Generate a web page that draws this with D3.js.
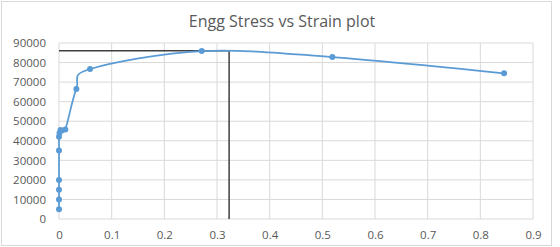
<!DOCTYPE html>
<html>
<head>
<meta charset="utf-8">
<script src="https://cdn.jsdelivr.net/npm/d3@7"></script>
<style>
  body { margin: 0; background: #fff; }
  text { font-family: "Open Sans", sans-serif; fill: #595959; }
</style>
</head>
<body>
<div id="chart-area"></div>
<script>
// strain / stress readings
const strain = [0, 0, 0, 0, 0, 0, 0.001, 0.003, 0.012, 0.033, 0.059, 0.271, 0.519, 0.845]
const stress = [5000, 10000, 15000, 20000, 35000, 42000, 44000, 45500, 45800, 66500, 76700, 85900, 82800, 74500]
const xTicks = [0, 0.1, 0.2, 0.3, 0.4, 0.5, 0.6, 0.7, 0.8, 0.9]
const yTicks = [0, 10000, 20000, 30000, 40000, 50000, 60000, 70000, 80000, 90000]
// guide lines marking the peak
const peakStrain = 0.323
const peakStress = 86000

const W = 560, H = 247
const MARGIN = { LEFT: 59, RIGHT: 27, TOP: 43, BOTTOM: 28 }
const WIDTH = W - MARGIN.LEFT - MARGIN.RIGHT
const HEIGHT = H - MARGIN.TOP - MARGIN.BOTTOM

const svg = d3.select("#chart-area").append("svg")
  .attr("width", W)
  .attr("height", H)

// chart border
svg.append("rect")
  .attr("x", 1.5).attr("y", 1.5)
  .attr("width", 550).attr("height", 244)
  .attr("fill", "#fff")
  .attr("stroke", "#d9d9d9")

svg.append("text")
  .attr("x", 282)
  .attr("y", 27)
  .attr("text-anchor", "middle")
  .attr("font-size", "16px")
  .text("Engg Stress vs Strain plot")

const g = svg.append("g")
  .attr("transform", `translate(${MARGIN.LEFT}, ${MARGIN.TOP})`)

const x = d3.scaleLinear().domain([0, 0.9]).range([0, WIDTH])
const y = d3.scaleLinear().domain([0, 90000]).range([HEIGHT, 0])

// gridlines
g.selectAll(".vgrid").data(xTicks).enter().append("line")
  .attr("x1", d => x(d)).attr("x2", d => x(d))
  .attr("y1", 0).attr("y2", HEIGHT)
  .attr("stroke", "#d9d9d9")
g.selectAll(".hgrid").data(yTicks).enter().append("line")
  .attr("x1", 0).attr("x2", WIDTH)
  .attr("y1", d => y(d)).attr("y2", d => y(d))
  .attr("stroke", "#d9d9d9")

const xAxis = g.append("g")
  .attr("transform", `translate(0, ${HEIGHT})`)
  .call(d3.axisBottom(x).tickValues(xTicks).tickSize(0).tickPadding(12).tickFormat(d => d))
const yAxis = g.append("g")
  .call(d3.axisLeft(y).tickValues(yTicks).tickSize(0).tickPadding(13).tickFormat(d => d))
xAxis.select(".domain").remove()
yAxis.select(".domain").remove()
g.selectAll(".tick text").attr("font-size", "11.5px").attr("fill", "#595959")

// peak guide lines
g.append("line")
  .attr("x1", x(0)).attr("x2", x(peakStrain))
  .attr("y1", y(peakStress)).attr("y2", y(peakStress))
  .attr("stroke", "#404040").attr("stroke-width", 1.5)
g.append("line")
  .attr("x1", x(peakStrain)).attr("x2", x(peakStrain))
  .attr("y1", y(peakStress)).attr("y2", y(0))
  .attr("stroke", "#404040").attr("stroke-width", 1.5)

const data = strain.map((s, i) => ({ strain: s, stress: stress[i] }))

const line = d3.line()
  .x(d => x(d.strain))
  .y(d => y(d.stress))
  .curve(d3.curveCardinal.tension(0))

g.append("path")
  .datum(data)
  .attr("d", line)
  .attr("fill", "none")
  .attr("stroke", "#5b9bd5")
  .attr("stroke-width", 1.75)

g.selectAll("circle").data(data).enter().append("circle")
  .attr("cx", d => x(d.strain))
  .attr("cy", d => y(d.stress))
  .attr("r", 3)
  .attr("fill", "#5b9bd5")
</script>
</body>
</html>
